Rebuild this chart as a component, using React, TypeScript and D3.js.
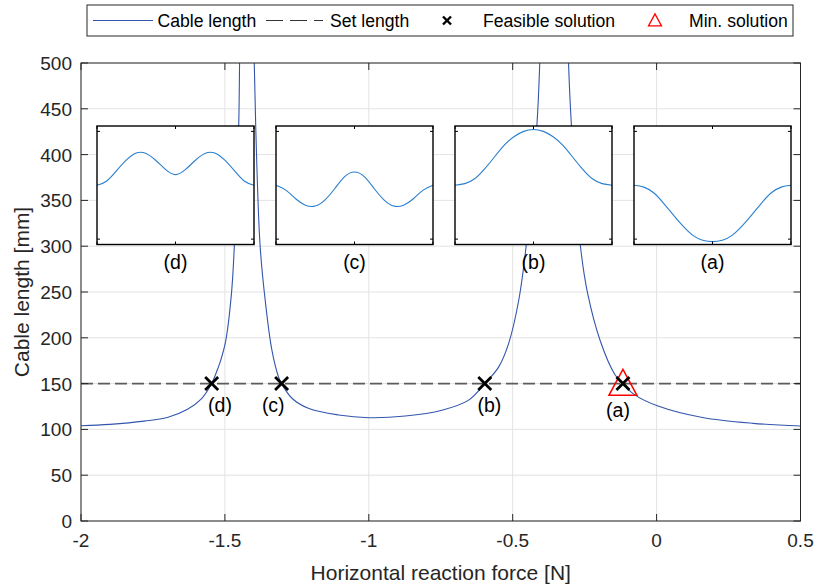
import React from 'react';
import * as d3 from 'd3';

// ---------- data ----------
const xTickValues = [-2, -1.5, -1, -0.5, 0, 0.5];
const xTickLabels = ['-2', '-1.5', '-1', '-0.5', '0', '0.5'];
const yTickValues = [0, 50, 100, 150, 200, 250, 300, 350, 400, 450, 500];
const yTickLabels = ['0', '50', '100', '150', '200', '250', '300', '350', '400', '450', '500'];

// cable length curve, three branches separated by asymptotes
const branchLeft: [number, number][] = [
  [-2.0, 104], [-1.9, 105.5], [-1.78, 109], [-1.7, 113], [-1.63, 122], [-1.58, 134],
  [-1.546, 150], [-1.524, 167], [-1.514, 176], [-1.497, 197], [-1.477, 249],
  [-1.467, 302], [-1.452, 432], [-1.449, 500], [-1.447, 540],
];
const branchMiddle: [number, number][] = [
  [-1.4, 540], [-1.398, 500], [-1.393, 432], [-1.378, 302], [-1.36, 241], [-1.337, 187],
  [-1.314, 157.5], [-1.303, 150], [-1.267, 134], [-1.21, 123], [-1.105, 115.7],
  [-1.0, 112.8], [-0.873, 114.6], [-0.746, 121], [-0.653, 132], [-0.597, 150],
  [-0.549, 168], [-0.514, 194], [-0.479, 241], [-0.453, 301], [-0.416, 432],
  [-0.406, 500], [-0.403, 540],
];
const branchRight: [number, number][] = [
  [-0.309, 540], [-0.306, 500], [-0.296, 432], [-0.265, 301], [-0.24, 249], [-0.195, 196],
  [-0.145, 160], [-0.117, 150], [-0.077, 138], [0.005, 125.5], [0.159, 113],
  [0.336, 106.6], [0.5, 103.7],
];

const setLength = 150;
const feasibleX = [-1.546, -1.303, -0.597, -0.117];
const feasibleLabels = ['(d)', '(c)', '(b)', '(a)'];
const feasibleLabelX = [-1.517, -1.332, -0.581, -0.134];
const feasibleLabelY = [119, 119, 119, 113];
const minSolutionX = -0.117;

// inset mode shapes (normalised position 0..1)
const insetLabels = ['(d)', '(c)', '(b)', '(a)'];
const insetXs = [0, 0.0625, 0.125, 0.1875, 0.25, 0.3125, 0.375, 0.4375, 0.5,
  0.5625, 0.625, 0.6875, 0.75, 0.8125, 0.875, 0.9375, 1];
const insetD = [0, 0.08, 0.27, 0.47, 0.6, 0.59, 0.46, 0.29, 0.197, 0.29, 0.46, 0.59, 0.6, 0.47, 0.27, 0.08, 0];
const insetC = [0, -0.09, -0.25, -0.37, -0.385, -0.27, -0.06, 0.16, 0.246, 0.16, -0.06, -0.27, -0.385, -0.37, -0.25, -0.09, 0];
const insetB = [0, 0.03, 0.12, 0.3, 0.52, 0.74, 0.9, 1.0, 1.035, 1.0, 0.9, 0.74, 0.52, 0.3, 0.12, 0.03, 0];
const insetA = [0, -0.035, -0.14, -0.33, -0.55, -0.76, -0.93, -1.02, -1.047, -1.02, -0.93, -0.76, -0.55, -0.33, -0.14, -0.035, 0];
const insetSeries = [insetD, insetC, insetB, insetA];
const insetXTicks = [0, 0.5, 1];
const insetYTicks = [-1, 1];

const legendLabels = ['Cable length', 'Set length', 'Feasible solution', 'Min. solution'];

// ---------- layout ----------
const W = 814;
const H = 587;
const plotL = 81, plotR = 800.5, plotT = 63, plotB = 521;
const insetLeft0 = 97, insetStep = 179, insetW = 157, insetTop = 126, insetH = 118.5;
const FONT = 'Liberation Sans, Arial, Helvetica, sans-serif';
const AX = '#262626';
const GRID = '#e3e3e3';
const MAIN_BLUE = '#3355ad';
const INSET_BLUE = '#2a7fce';

export default function App() {
  const x = d3.scaleLinear().domain([-2, 0.5]).range([plotL, plotR]);
  const y = d3.scaleLinear().domain([0, 500]).range([plotB, plotT]);
  const line = d3.line<[number, number]>().x(d => x(d[0])).y(d => y(d[1])).curve(d3.curveCatmullRom.alpha(0.5));

  const branches = [branchLeft, branchMiddle, branchRight];
  const tickLen = 7;

  const xMark = (cx: number, cy: number, r: number, sw: number, key: string) => (
    <g key={key} stroke="#000" strokeWidth={sw} strokeLinecap="butt">
      <line x1={cx - r} y1={cy - r} x2={cx + r} y2={cy + r} />
      <line x1={cx - r} y1={cy + r} x2={cx + r} y2={cy - r} />
    </g>
  );
  const tri = (cx: number, cy: number, w: number, h: number, key: string, sw: number) => (
    <polygon key={key} points={`${cx},${cy - h * 0.55} ${cx - w / 2},${cy + h * 0.45} ${cx + w / 2},${cy + h * 0.45}`}
      fill="none" stroke="#ff0000" strokeWidth={sw} />
  );

  return (
    <div style={{ position: 'absolute', left: 0, top: 0 }}>
      <svg width={W} height={H} style={{ display: 'block', background: '#fff' }} fontFamily={FONT}>
        <defs>
          <clipPath id="plotClip">
            <rect x={plotL} y={plotT} width={plotR - plotL} height={plotB - plotT} />
          </clipPath>
        </defs>
        <rect x={0} y={0} width={W} height={H} fill="#fff" />
        {/* grid */}
        <g stroke={GRID} strokeWidth={1}>
          {xTickValues.map((v, i) => (
            <line key={'gx' + i} x1={x(v)} x2={x(v)} y1={plotT} y2={plotB} />
          ))}
          {yTickValues.map((v, i) => (
            <line key={'gy' + i} x1={plotL} x2={plotR} y1={y(v)} y2={y(v)} />
          ))}
        </g>
        {/* curve */}
        <g clipPath="url(#plotClip)">
          {branches.map((b, i) => (
            <path key={'br' + i} d={line(b) || ''} fill="none" stroke={MAIN_BLUE} strokeWidth={1.1} />
          ))}
        </g>
        {/* insets */}
        {insetSeries.map((s, k) => {
          const left = insetLeft0 + k * insetStep;
          const ix = d3.scaleLinear().domain([0, 1]).range([left, left + insetW]);
          const iy = d3.scaleLinear().domain([-1.1, 1.1]).range([insetTop + insetH, insetTop]);
          const pts: [number, number][] = insetXs.map((xv, j) => [xv, s[j]]);
          const il = d3.line<[number, number]>().x(d => ix(d[0])).y(d => iy(d[1])).curve(d3.curveNatural);
          return (
            <g key={'inset' + k}>
              <rect x={left} y={insetTop} width={insetW} height={insetH} fill="#fff" stroke="none" />
              <path d={il(pts) || ''} fill="none" stroke={INSET_BLUE} strokeWidth={1.1} />
              <g stroke="#000" strokeWidth={1}>
                {insetXTicks.map((t, j) => (
                  <g key={'ixt' + j}>
                    <line x1={ix(t)} x2={ix(t)} y1={insetTop + insetH} y2={insetTop + insetH - 3} />
                    <line x1={ix(t)} x2={ix(t)} y1={insetTop} y2={insetTop + 3} />
                  </g>
                ))}
                {insetYTicks.map((t, j) => (
                  <g key={'iyt' + j}>
                    <line x1={left} x2={left + 3} y1={iy(t)} y2={iy(t)} />
                    <line x1={left + insetW} x2={left + insetW - 3} y1={iy(t)} y2={iy(t)} />
                  </g>
                ))}
              </g>
              <rect x={left} y={insetTop} width={insetW} height={insetH} fill="none" stroke="#000" strokeWidth={1.4} />
              <text x={left + insetW / 2} y={269} textAnchor="middle" fontSize={19.5} fill="#000">{insetLabels[k]}</text>
            </g>
          );
        })}
        {/* set length */}
        <line x1={plotL} x2={plotR} y1={y(setLength)} y2={y(setLength)} stroke="#5c5c5c" strokeWidth={1.8} strokeDasharray="12 5" />
        {/* markers */}
        {tri(x(minSolutionX), y(setLength), 28, 26, 'tri', 1.5)}
        {feasibleX.map((v, i) => xMark(x(v), y(setLength), 6.5, 2.8, 'fx' + i))}
        {feasibleLabels.map((t, i) => (
          <text key={'fl' + i} x={x(feasibleLabelX[i])} y={y(feasibleLabelY[i])} textAnchor="middle" fontSize={19.5} fill="#000">{t}</text>
        ))}
        {/* axes box */}
        <rect x={plotL} y={plotT} width={plotR - plotL} height={plotB - plotT} fill="none" stroke={AX} strokeWidth={1} />
        <g stroke={AX} strokeWidth={1}>
          {xTickValues.map((v, i) => (
            <g key={'xt' + i}>
              <line x1={x(v)} x2={x(v)} y1={plotB} y2={plotB - tickLen} />
              <line x1={x(v)} x2={x(v)} y1={plotT} y2={plotT + tickLen} />
            </g>
          ))}
          {yTickValues.map((v, i) => (
            <g key={'yt' + i}>
              <line x1={plotL} x2={plotL + tickLen} y1={y(v)} y2={y(v)} />
              <line x1={plotR} x2={plotR - tickLen} y1={y(v)} y2={y(v)} />
            </g>
          ))}
        </g>
        {xTickValues.map((v, i) => (
          <text key={'xl' + i} x={x(v)} y={plotB + 26} textAnchor="middle" fontSize={19} fill={AX}>{xTickLabels[i]}</text>
        ))}
        {yTickValues.map((v, i) => (
          <text key={'yl' + i} x={plotL - 9} y={y(v) + 7} textAnchor="end" fontSize={19} fill={AX}>{yTickLabels[i]}</text>
        ))}
        <text x={(plotL + plotR) / 2} y={580} textAnchor="middle" fontSize={21} fill={AX}>Horizontal reaction force [N]</text>
        <text transform={`translate(29, ${(plotT + plotB) / 2}) rotate(-90)`} textAnchor="middle" fontSize={21} fill={AX}>Cable length [mm]</text>
        {/* legend */}
        <g>
          <rect x={87} y={5} width={706} height={31} fill="#fff" stroke={AX} strokeWidth={1} />
          <line x1={93} x2={153} y1={20.5} y2={20.5} stroke={MAIN_BLUE} strokeWidth={1.1} />
          <text x={157.5} y={27} fontSize={17.6} fill="#000">{legendLabels[0]}</text>
          <line x1={266} x2={323} y1={20.5} y2={20.5} stroke="#333" strokeWidth={1.2} strokeDasharray="17 7" />
          <text x={330} y={27} fontSize={17.6} fill="#000">{legendLabels[1]}</text>
          {xMark(447, 20.5, 4, 2.4, 'lx')}
          <text x={483} y={27} fontSize={17.6} fill="#000">{legendLabels[2]}</text>
          {tri(655, 20.5, 13, 12, 'ltri', 1.3)}
          <text x={689} y={27} fontSize={17.6} fill="#000">{legendLabels[3]}</text>
        </g>
      </svg>
    </div>
  );
}
